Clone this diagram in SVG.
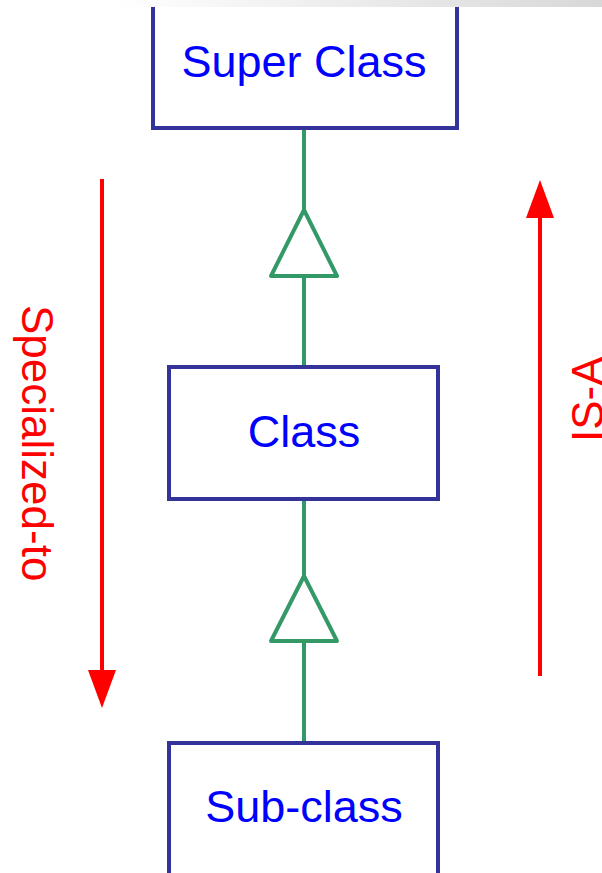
<svg xmlns="http://www.w3.org/2000/svg" width="602" height="873" viewBox="0 0 602 873">
<defs>
<linearGradient id="band" x1="0" y1="0" x2="1" y2="0">
<stop offset="0.19" stop-color="#ffffff"/>
<stop offset="1" stop-color="#d8d8d8"/>
</linearGradient>
<style>
.box{fill:#ffffff;stroke:#333399;stroke-width:4}
.lbl{font-family:"Liberation Sans",Arial,sans-serif;font-size:45px;fill:#0000ff;text-anchor:middle}
.gen{stroke:#339966;stroke-width:4;fill:none}
.tri{stroke:#339966;stroke-width:4;fill:#ffffff;stroke-linejoin:round}
.red{stroke:#ff0000;stroke-width:4;fill:none}
.redhead{fill:#ff0000}
.rlbl{font-family:"Liberation Sans",Arial,sans-serif;font-size:44px;fill:#ff0000}
</style>
</defs>
<rect x="0" y="0" width="602" height="873" fill="#ffffff"/>
<g id="connectors">
<line class="gen" x1="304" y1="128" x2="304" y2="212"/>
<line class="gen" x1="304" y1="276" x2="304" y2="367"/>
<polygon class="tri" points="304,210 337,276 271,276"/>
<line class="gen" x1="304" y1="499" x2="304" y2="577"/>
<line class="gen" x1="304" y1="641" x2="304" y2="743"/>
<polygon class="tri" points="304,576 337,641 271,641"/>
</g>
<g id="superclass">
<rect class="box" x="153" y="-10" width="304" height="138"/>
<text class="lbl" x="304" y="77">Super Class</text>
</g>
<g id="class">
<rect class="box" x="169" y="367" width="269" height="132"/>
<text class="lbl" x="304" y="447">Class</text>
</g>
<g id="subclass">
<rect class="box" x="169" y="743" width="269" height="140"/>
<text class="lbl" x="304" y="822">Sub-class</text>
</g>
<g id="specialized-to">
<line class="red" x1="102" y1="179" x2="102" y2="672"/>
<polygon class="redhead" points="88,670 116,670 102,708"/>
<text class="rlbl" transform="translate(22,305) rotate(90)">Specialized-to</text>
</g>
<g id="is-a">
<line class="red" x1="540" y1="676" x2="540" y2="215"/>
<polygon class="redhead" points="526,218 554,218 540,180"/>
<text class="rlbl" transform="translate(603,442) rotate(-90)">IS-A</text>
</g>
<rect x="0" y="0" width="602" height="7" fill="url(#band)"/>
</svg>
